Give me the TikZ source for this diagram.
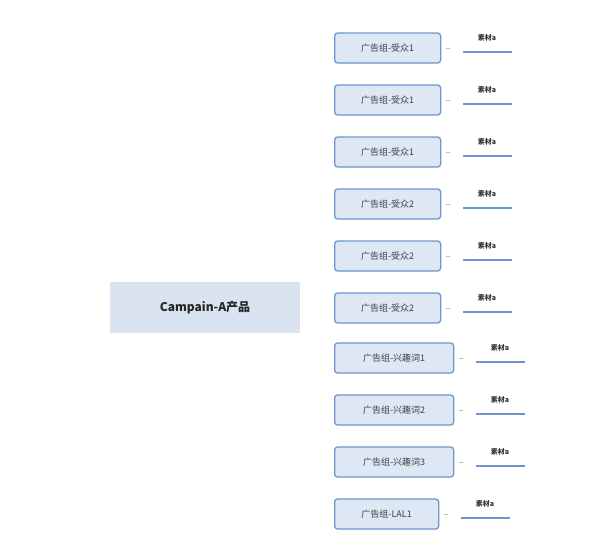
\documentclass[tikz,border=0pt]{standalone}
\usepackage{fontspec}
\setmainfont{Noto Sans CJK SC}
\usetikzlibrary{calc}
\begin{document}
\begin{tikzpicture}[x=1pt,y=-1pt,
  grp/.style={draw=boxblue,line width=1.3pt,fill=boxfill,rounded corners=3pt,minimum height=30pt,anchor=west,font=\fontsize{9}{10}\selectfont,text=black!75,inner sep=0pt},
  mat/.style={font=\fontsize{7}{8}\selectfont\bfseries,text=black!80,inner sep=0pt},
  matline/.style={draw=boxblue,line width=1.5pt},
  tick/.style={draw=black!25,line width=0.6pt}]
\definecolor{boxblue}{RGB}{110,150,205}
\definecolor{boxfill}{RGB}{222,232,245}
\definecolor{rootfill}{RGB}{218,228,240}
\useasboundingbox (0,0) rectangle (616,544);
\fill[white] (0,0) rectangle (616,544);
\node[fill=rootfill,minimum width=190pt,minimum height=51pt,font=\fontsize{12}{14}\selectfont\bfseries,text=black!85] (root) at (205,307.5) {Campain-A产品};
\foreach \i/\y/\t/\w/\lx in {1/48/广告组-受众1/106/463,2/100/广告组-受众1/106/463,3/152/广告组-受众1/106/463,4/204/广告组-受众2/106/463,5/256/广告组-受众2/106/463,6/308/广告组-受众2/106/463,7/358/广告组-兴趣词1/119/476,8/410/广告组-兴趣词2/119/476,9/462/广告组-兴趣词3/119/476,10/514/广告组-LAL1/104/461}{
  \node[grp,minimum width=\w pt] (g\i) at (334,\y) {\t};
  \coordinate (ta\i) at ($(g\i.east)+(5,0)$);
  \coordinate (tb\i) at ($(g\i.east)+(9,0)$);
  \draw[tick] (ta\i) -- (tb\i);
  \coordinate (la\i) at (\lx,\y+4);
  \coordinate (lb\i) at (\lx+49,\y+4);
  \draw[matline] (la\i) -- (lb\i);
  \node[mat] (m\i) at (\lx+24,\y-10) {素材a};
}
\end{tikzpicture}
\end{document}
